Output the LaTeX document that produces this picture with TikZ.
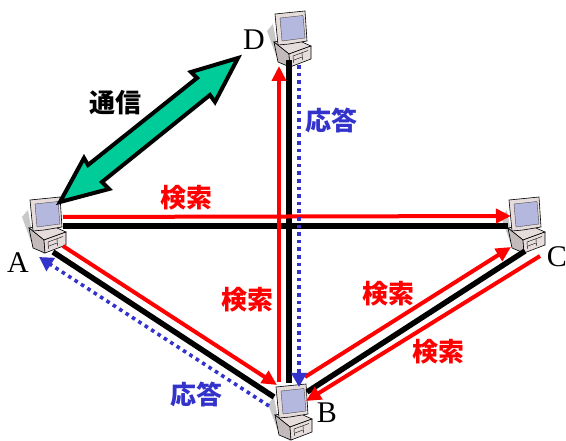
\documentclass[tikz,border=0pt]{standalone}
\usepackage{fontspec}
\usepackage{xcolor}
\usepackage{tikz}
\usetikzlibrary{arrows.meta}
\setmainfont{Liberation Serif}
\newfontfamily\cjk{Noto Sans CJK JP}

\definecolor{commgreen}{HTML}{00CC99}
\definecolor{replyblue}{HTML}{3333CC}
\definecolor{pcscreen}{HTML}{B4B8DE}
\definecolor{pcbody}{HTML}{E6DCDC}
\definecolor{pcshadow}{HTML}{C8C8C8}

\tikzset{
    pics/pc/.style={code={
        \fill[pcshadow] (-8,18) -- (-2,11) -- (2,33) -- (14,55) -- (3,48) -- cycle;
        % base
        \filldraw[fill=pcbody, draw=black, line width=0.6pt] (-1,29) -- (18,25) -- (36,33) -- (14,41) -- cycle;
        \filldraw[fill=pcbody!85!black, draw=black, line width=0.6pt] (-1,29) -- (14,41) -- (15,54) -- (3,49) -- cycle;
        \filldraw[fill=pcbody, draw=black, line width=0.6pt] (14,41) -- (36,33) -- (36,46) -- (15,54) -- cycle;
        \draw[line width=0.4pt] (18,43) -- (33,37.5) (18.5,50) -- (18,43) (27,40) -- (27.5,47) (19,47) -- (27,44);
        % monitor
        \filldraw[fill=pcbody, draw=black, line width=0.6pt] (0,1) -- (30,-2) -- (32,28) -- (14,31) -- (3,32) -- cycle;
        \filldraw[fill=pcscreen, draw=black!70, line width=0.4pt] (5,5) -- (28,2.5) -- (30,25) -- (7,28) -- cycle;
    }},
    blackline/.style={line width=5.5pt, black},
    searchline/.style={line width=4pt, red, -{Triangle[length=15pt,width=14pt]}},
    replyline/.style={line width=3.6pt, replyblue, dash pattern=on 3.6pt off 4pt, -{Triangle[length=14pt,width=15pt]}},
    pclabel/.style={font=\fontsize{30}{30}\selectfont, inner sep=0pt},
    msglabel/.style={font=\cjk\bfseries\fontsize{26}{26}\selectfont, inner sep=0pt},
}

\begin{document}
\begin{tikzpicture}[x=1pt, y=-1pt]
    \useasboundingbox (0,0) rectangle (566,441);

    % The four computers
    \pic at (30,199) {pc};
    \pic at (276,386) {pc};
    \pic at (509,199) {pc};
    \pic at (275,13) {pc};

    \node[pclabel] (labelA) at (18,263) {A};
    \node[pclabel] (labelB) at (327,413) {B};
    \node[pclabel] (labelC) at (557,257) {C};
    \node[pclabel] (labelD) at (254,40) {D};

    % Line ends at each computer
    \coordinate (acA) at (63,226);    \coordinate (acC) at (508,226);
    \coordinate (asA) at (63,217);    \coordinate (asC) at (511,216);
    \coordinate (abA) at (53,252);    \coordinate (abB) at (274,397);
    \coordinate (bsA) at (63,246);    \coordinate (bsB) at (277,385);
    \coordinate (brB) at (269,406);   \coordinate (brA) at (39,257);
    \coordinate (dbD) at (289,60);    \coordinate (dbB) at (289,383);
    \coordinate (dsB) at (279,382);   \coordinate (dsD) at (279,66);
    \coordinate (drD) at (299,65);    \coordinate (drB) at (299,387);
    \coordinate (csB) at (305,377);   \coordinate (csC) at (511,247);
    \coordinate (cbB) at (307,392);   \coordinate (cbC) at (525,251);
    \coordinate (crC) at (540,256);   \coordinate (crB) at (306,401);

    % Network lines
    \draw[blackline] (acA) -- (acC);
    \draw[blackline] (abA) -- (abB);
    \draw[blackline] (dbD) -- (dbB);
    \draw[blackline] (cbB) -- (cbC);

    % Search messages
    \draw[searchline] (asA) -- (asC);
    \draw[searchline] (bsA) -- (bsB);
    \draw[searchline] (dsB) -- (dsD);
    \draw[searchline] (csB) -- (csC);
    \draw[searchline] (crC) -- (crB);

    % Replies
    \draw[replyline] (brB) -- (brA);
    \draw[replyline] (drD) -- (drB);

    % Direct communication A - D
    \coordinate (commA) at (60,202);
    \coordinate (commD) at (238,58);
    \filldraw[fill=commgreen, draw=black, line width=4pt, miter limit=10]
        (commD) -- (191,72) -- (197,78) -- (88,165) -- (84,158) -- (commA)
        -- (109,189) -- (102,182) -- (210,95) -- (215,102) -- cycle;

    % Labels
    \node[msglabel, black] (comm) at (115,103) {通信};
    \node[msglabel, red] (searchAC) at (186,198) {検索};
    \node[msglabel, red] (searchDB) at (247,300) {検索};
    \node[msglabel, red] (searchBC) at (388,294) {検索};
    \node[msglabel, red] (searchCB) at (438,352) {検索};
    \node[msglabel, replyblue] (replyD) at (331,121) {応答};
    \node[msglabel, replyblue] (replyB) at (196,395) {応答};
\end{tikzpicture}
\end{document}
